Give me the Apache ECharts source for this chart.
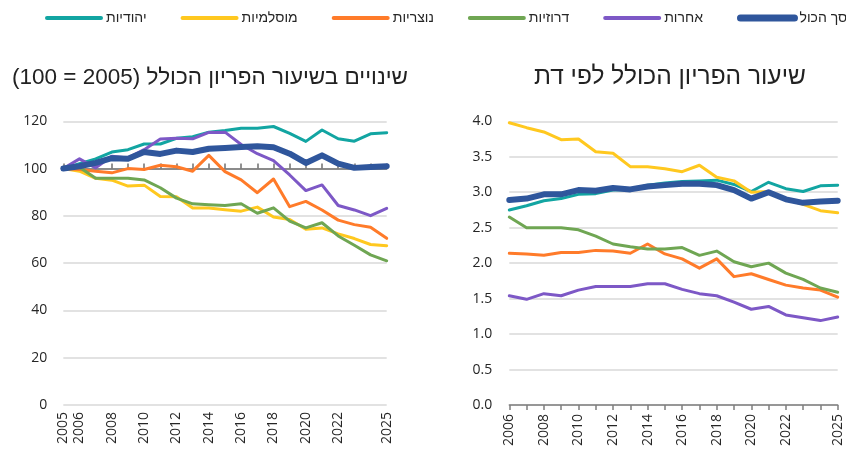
<!DOCTYPE html>
<html>
<head>
<meta charset="utf-8">
<script src="https://cdn.jsdelivr.net/npm/echarts@6/dist/echarts.min.js"></script>
<style>
  html, body { margin: 0; padding: 0; background: #fff; }
  #chart { width: 846px; height: 457px; }
</style>
</head>
<body>
<div id="chart"></div>
<script>
  // שנים
  var yearsIndex = ['2005','2006','2007','2008','2009','2010','2011','2012','2013','2014','2015',
    '2016','2017','2018','2019','2020','2021','2022','2023','2024','2025']
  var yearsTfr = yearsIndex.slice(1)
  var shownYears = ['2005','2006','2008','2010','2012','2014','2016','2018','2020','2022','2025']

  var names = ['יהודיות', 'מוסלמיות', 'נוצריות', 'דרוזיות', 'אחרות', 'סך הכול']
  var colors = ['#12A5A2', '#FFC81F', '#FF7B2A', '#6FA653', '#7D58C6', '#2F569C']
  var widths = [3, 3, 3, 3, 3, 6]

  // מדד 2005 = 100
  var idxJewish = [100,102.1,104.1,107,108,110.4,110.4,112.8,113.5,115.4,116.1,117.1,117.1,117.8,114.9,111.5,116.3,112.6,111.6,114.7,115.2]
  var idxMuslim = [100,98.9,95.9,95.1,92.6,93,88.2,88.1,83.3,83.3,82.6,82,83.7,79.5,78.5,74.3,74.9,72.4,70.4,67.9,67.4]
  var idxChristian = [100,99.6,98.9,98.2,100,99.6,101.4,100.8,98.9,105.6,98.7,95.2,89.8,95.6,83.9,86.1,82.5,78.2,76.3,75.2,70.5]
  var idxDruze = [100,100.6,95.9,95.9,95.9,95.2,91.9,87.5,85.1,84.7,84.4,85.1,81.1,83.4,77.8,74.9,77.1,71.5,67.6,63.5,61]
  var idxOther = [100,104.1,100.3,105.2,104.5,108,112.5,112.8,112.6,115.3,115.4,110.2,106.3,103.4,97.3,90.7,93.1,84.4,82.5,80.1,83.2]
  var idxTotal = [100,101,102.4,104.4,104.2,107,106.2,107.6,107,108.4,108.7,109.1,109.4,109,106.3,102.4,105.6,102.1,100.3,100.7,101]

  // שיעור פריון כולל
  var tfrJewish = [2.75,2.81,2.88,2.91,2.97,2.98,3.03,3.04,3.10,3.13,3.15,3.16,3.17,3.11,3.01,3.14,3.05,3.01,3.09,3.10]
  var tfrMuslim = [3.98,3.91,3.85,3.74,3.75,3.57,3.55,3.36,3.36,3.33,3.29,3.38,3.21,3.16,3.00,3.01,2.90,2.83,2.74,2.71]
  var tfrChristian = [2.14,2.13,2.11,2.15,2.15,2.18,2.17,2.14,2.27,2.13,2.06,1.93,2.06,1.81,1.85,1.77,1.69,1.65,1.62,1.52]
  var tfrDruze = [2.65,2.50,2.50,2.50,2.47,2.38,2.27,2.23,2.20,2.20,2.22,2.11,2.17,2.02,1.95,2.00,1.86,1.77,1.65,1.59]
  var tfrOther = [1.54,1.49,1.57,1.54,1.62,1.67,1.67,1.67,1.71,1.71,1.63,1.57,1.54,1.45,1.35,1.39,1.27,1.23,1.19,1.24]
  var tfrTotal = [2.89,2.91,2.97,2.97,3.03,3.02,3.06,3.04,3.08,3.10,3.12,3.12,3.10,3.03,2.91,3.00,2.90,2.85,2.87,2.88]

  var idxData = [idxJewish, idxMuslim, idxChristian, idxDruze, idxOther, idxTotal]
  var tfrData = [tfrJewish, tfrMuslim, tfrChristian, tfrDruze, tfrOther, tfrTotal]

  var font = "'Open Sans', 'Noto Sans', 'DejaVu Sans', sans-serif"
  var hebFont = "'Liberation Sans', 'Open Sans', sans-serif"
  var textColor = '#262626'

  function yearLabel(years) {
    return function (index) {
      return shownYears.indexOf(years[index]) >= 0
    }
  }

  var series = []
  names.forEach(function (name, i) {
    var common = {
      type: 'line',
      name: name,
      symbol: 'none',
      color: colors[i],
      lineStyle: {width: widths[i], color: colors[i], join: 'round', cap: 'round'},
      z: i === 5 ? 4 : 2
    }
    series.push(Object.assign({}, common, {xAxisIndex: 0, yAxisIndex: 0, data: idxData[i]}))
    series.push(Object.assign({}, common, {xAxisIndex: 2, yAxisIndex: 1, data: tfrData[i]}))
  })

  var chart = echarts.init(document.getElementById('chart'))
  chart.setOption({
    animation: false,
    textStyle: {fontFamily: font},
    title: [
      {
        text: '\u202B' + 'שינויים בשיעור הפריון הכולל (2005 = 100)' + '\u202C',
        left: 7, top: 61,
        textStyle: {fontSize: 22.5, fontWeight: 'normal', color: '#222', fontFamily: hebFont}
      },
      {
        text: 'שיעור הפריון הכולל לפי דת',
        left: 529, top: 60,
        textStyle: {fontSize: 24.5, fontWeight: 'normal', color: '#222', fontFamily: hebFont}
      }
    ],
    legend: {
      left: 40,
      top: 6,
      width: 806,
      itemWidth: 54,
      itemHeight: 8,
      itemGap: 34,
      itemStyle: {opacity: 0},
      textStyle: {fontSize: 14, color: textColor, fontFamily: hebFont},
      data: names.map(function (n, i) {
        return {name: n, lineStyle: {width: widths[i] + 1, color: colors[i], cap: 'round'}}
      })
    },
    grid: [
      {left: 63.3, width: 323.4, top: 121.3, height: 283.7},
      {left: 509.3, width: 328.4, top: 121.3, height: 283.7}
    ],
    xAxis: [
      {
        gridIndex: 0,
        type: 'category',
        boundaryGap: false,
        data: yearsIndex,
        axisLine: {show: false},
        axisTick: {show: false},
        axisLabel: {
          rotate: 90, margin: 7, fontSize: 14, color: textColor,
          interval: yearLabel(yearsIndex)
        }
      },
      {
        // הקו של 100
        gridIndex: 0,
        type: 'category',
        boundaryGap: false,
        data: yearsIndex,
        axisLine: {show: true, onZero: true, onZeroAxisIndex: 2, lineStyle: {color: '#6f6f6f', width: 1.5}},
        axisTick: {show: true, interval: 0, length: 5, lineStyle: {color: '#6f6f6f', width: 1.5}},
        axisLabel: {show: false}
      },
      {
        gridIndex: 1,
        type: 'category',
        boundaryGap: false,
        data: yearsTfr,
        axisLine: {show: true, lineStyle: {color: '#7f7f7f', width: 1.5}},
        axisTick: {show: true, interval: 0, length: 5, lineStyle: {color: '#7f7f7f', width: 1.5}},
        axisLabel: {
          rotate: 90, margin: 9, fontSize: 14, color: textColor,
          interval: yearLabel(yearsTfr)
        }
      }
    ],
    yAxis: [
      {
        gridIndex: 0,
        type: 'value',
        min: 0, max: 120, interval: 20,
        axisLine: {show: false},
        axisTick: {show: false},
        axisLabel: {fontSize: 14, color: textColor, margin: 16},
        splitLine: {lineStyle: {color: '#d9d9d9', width: 1.5}}
      },
      {
        gridIndex: 1,
        type: 'value',
        min: 0, max: 4, interval: 0.5,
        axisLine: {show: false},
        axisTick: {show: false},
        axisLabel: {
          fontSize: 14, color: textColor, margin: 17,
          formatter: function (v) { return v.toFixed(1) }
        },
        splitLine: {lineStyle: {color: '#d9d9d9', width: 1.5}}
      },
      {
        // ציר עזר: 0 שלו נמצא בגובה 100
        gridIndex: 0,
        type: 'value',
        min: -100, max: 20,
        show: false
      }
    ],
    series: series
  })
</script>
</body>
</html>
